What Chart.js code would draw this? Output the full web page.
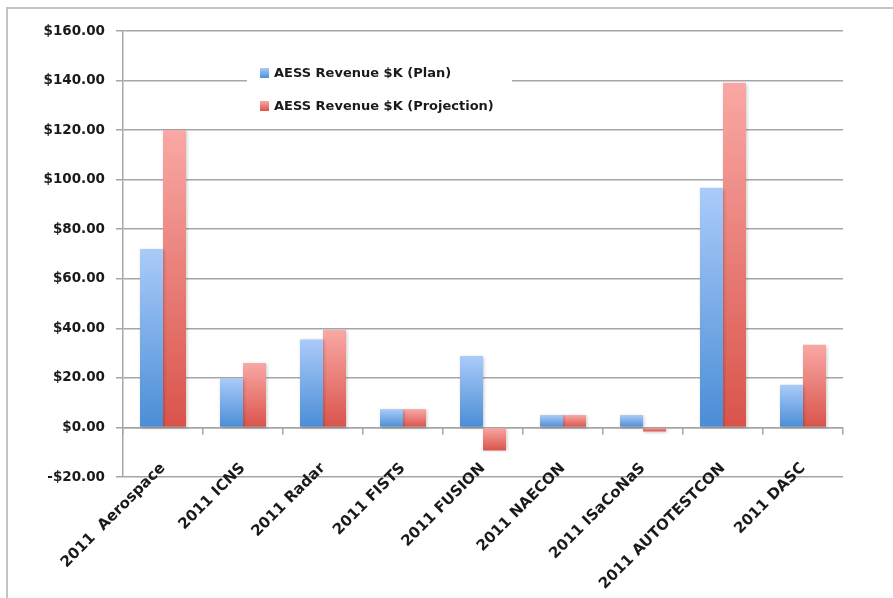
<!DOCTYPE html>
<html>
<head>
<meta charset="utf-8">
<script src="https://cdn.jsdelivr.net/npm/chart.js@4/dist/chart.umd.min.js"></script>
<style>
  html, body { margin: 0; padding: 0; background: #fff; overflow: hidden; }
  #wrap { position: relative; width: 893px; height: 598px; }
  #frame { position: absolute; left: 6px; top: 7px; width: 900px; height: 600px; border: 2px solid #c4c4c4; }
  canvas { position: absolute; left: 0; top: 0; }
</style>
</head>
<body>
<div id="wrap">
  <div id="frame"></div>
  <canvas id="chart" width="893" height="598"></canvas>
</div>
<script>
const categories = ["2011  Aerospace", "2011 ICNS", "2011 Radar", "2011 FISTS", "2011 FUSION",
  "2011 NAECON", "2011 ISaCoNaS", "2011 AUTOTESTCON", "2011 DASC"];
const planValues = [72, 20, 35.5, 7.4, 28.8, 5, 5, 96.7, 17.2];
const projectionValues = [120, 26, 39.3, 7.4, -9.3, 5, -1.6, 139.1, 33.4];
const seriesLabels = ["AESS Revenue $K (Plan)", "AESS Revenue $K (Projection)"];

const FONT = "'DejaVu Sans', sans-serif";
const gridColor = "#a6a6a6";

// light at the top of each bar, darker at the bottom
const shades = [
  { light: "#aacbf9", dark: "#4a8dd6" },
  { light: "#f9a8a5", dark: "#d9544b" },
];

function barGradient(context) {
  const chart = context.chart;
  const yScale = chart.scales.y;
  const shade = shades[context.datasetIndex];
  if (!yScale || context.type !== "data") return shade.dark;
  const v = context.raw;
  let top = yScale.getPixelForValue(Math.max(v, 0));
  let bottom = yScale.getPixelForValue(Math.min(v, 0));
  if (!isFinite(top) || !isFinite(bottom) || bottom - top < 1) return shade.dark;
  const g = chart.ctx.createLinearGradient(0, top, 0, bottom);
  g.addColorStop(0, shade.light);
  g.addColorStop(1, shade.dark);
  return g;
}

// legend drawn inside the plot on a white box
const insideLegend = {
  id: "insideLegend",
  afterDatasetsDraw(chart) {
    const ctx = chart.ctx;
    ctx.save();
    ctx.fillStyle = "#fff";
    ctx.fillRect(247, 58, 265, 62);
    ctx.font = "bold 13px " + FONT;
    ctx.textBaseline = "middle";
    chart.data.datasets.forEach((ds, i) => {
      const y = 73 + i * 33;
      const g = ctx.createLinearGradient(0, y - 5, 0, y + 5);
      g.addColorStop(0, shades[i].light);
      g.addColorStop(1, shades[i].dark);
      ctx.fillStyle = g;
      ctx.fillRect(260, y - 5, 9, 10);
      ctx.fillStyle = "#1a1a1a";
      ctx.fillText(ds.label, 274, y + 1);
    });
    ctx.restore();
  }
};

const barShadow = {
  id: "barShadow",
  beforeDatasetsDraw(chart) {
    const ctx = chart.ctx;
    ctx.save();
    ctx.shadowColor = "rgba(0,0,0,0.22)";
    ctx.shadowBlur = 3;
    ctx.shadowOffsetX = 1;
    ctx.shadowOffsetY = 1;
  },
  afterDatasetsDraw(chart) {
    chart.ctx.restore();
  }
};

new Chart(document.getElementById("chart"), {
  type: "bar",
  data: {
    labels: categories,
    datasets: [
      { label: seriesLabels[0], data: planValues, backgroundColor: barGradient },
      { label: seriesLabels[1], data: projectionValues, backgroundColor: barGradient },
    ],
  },
  options: {
    responsive: false,
    animation: false,
    devicePixelRatio: 1,
    layout: { padding: { left: 0, top: 31, right: 50, bottom: 121 } },
    datasets: { bar: { categoryPercentage: 0.575, barPercentage: 1, borderWidth: 0 } },
    scales: {
      x: {
        position: { y: 0 },
        grid: { offset: true, drawOnChartArea: false, drawTicks: true, tickLength: 6, color: gridColor, lineWidth: 1.5 },
        border: { display: true, color: gridColor, width: 1.5 },
        ticks: {
          autoSkip: false,
          maxRotation: 45,
          minRotation: 45,
          padding: 26,
          color: "#1a1a1a",
          font: { family: FONT, size: 15, weight: "bold" },
        },
      },
      y: {
        min: -20,
        max: 160,
        afterFit(scale) { scale.width = 123; },
        grid: { color: gridColor, lineWidth: 1.5, tickLength: 7 },
        border: { display: true, color: gridColor, width: 1.5 },
        ticks: {
          stepSize: 20,
          padding: 11,
          color: "#1a1a1a",
          font: { family: FONT, size: 13.5, weight: "bold" },
          callback: (v) => (v < 0 ? "-$" : "$") + Math.abs(v).toFixed(2),
        },
      },
    },
    plugins: {
      legend: { display: false },
      tooltip: { enabled: false },
    },
  },
  plugins: [barShadow, insideLegend],
});
</script>
</body>
</html>
